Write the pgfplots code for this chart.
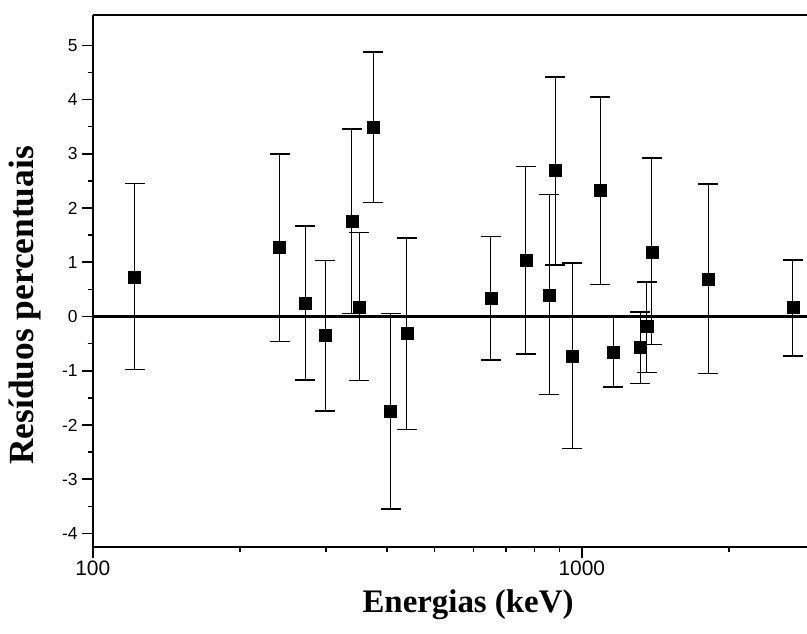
\documentclass[border=0pt]{standalone}
\usepackage{fontspec}
\setmainfont{Liberation Serif}
\newfontfamily\ticksfont{Liberation Sans}
\usepackage{pgfplots}
\usepackage{pgfplotstable}
\pgfplotsset{compat=1.18}

\pgfplotstableread{
x     y      ep    em
121.8  0.72  1.73  1.70
241    1.27  1.73  1.73
272    0.25  1.42  1.42
299   -0.35  1.38  1.39
338.6  1.75  1.71  1.70
350.4  0.18  1.37  1.36
374.8  3.49  1.39  1.39
406.7 -1.75  1.80  1.80
438.6 -0.31  1.76  1.77
652    0.33  1.14  1.13
768.5  1.03  1.74  1.72
858.6  0.40  1.85  1.84
883    2.69  1.73  1.74
956.8 -0.73  1.72  1.70
1090   2.32  1.73  1.73
1160  -0.66  0.65  0.64
1316  -0.57  0.65  0.67
1358  -0.18  0.82  0.85
1390   1.18  1.74  1.70
1815   0.68  1.76  1.73
2701   0.17  0.87  0.90
}\residuos

\begin{document}
\begin{tikzpicture}[x=1bp,y=1bp]
\path[use as bounding box] (0,0) rectangle (807,634);
\begin{axis}[
  at={(92.7bp,87bp)}, anchor=south west,
  scale only axis, width=714.3bp, height=532bp,
  xmode=log, xmin=100, xmax=2888, ymin=-4.25, ymax=5.56,
  /pgf/number format/assume math mode=true,
  axis x line=box, axis y line=left,
  axis line style={-, line width=2bp},
  xtick pos=left,
  tick align=outside,
  xtick={100,1000}, xticklabels={100,1000},
  minor xtick={200,300,400,500,600,700,800,900,2000},
  ytick={-4,-3,-2,-1,0,1,2,3,4,5},
  yticklabels={-4,-3,-2,-1,0,1,2,3,4,5},
  minor ytick={-3.5,-2.5,-1.5,-0.5,0.5,1.5,2.5,3.5,4.5},
  major tick length=11bp, minor tick length=5bp,
  major tick style={line width=1.6bp, black},
  minor tick style={line width=1.4bp, black},
  xticklabel style={font=\ticksfont\fontsize{21}{25}\selectfont, inner sep=3bp},
  yticklabel style={font=\ticksfont\fontsize{17.5}{21}\selectfont, inner sep=4bp},
  xlabel={Energias (keV)},
  ylabel={Resíduos percentuais},
  xlabel style={font=\bfseries\fontsize{33}{38}\selectfont, at={(axis description cs:0.5254,-0.1235)}, anchor=base},
  ylabel style={font=\bfseries\fontsize{35.5}{40}\selectfont, at={(axis description cs:-0.0829,0.454)}, anchor=base},
  clip=false,
]
\addplot[black, line width=2.2bp, no marks] coordinates {(100,0) (2888,0)};
\addplot[only marks, mark=square*, mark size=6bp, black,
  error bars/.cd, y dir=both, y explicit,
  error bar style={line width=0.9bp},
  error mark options={rotate=90, mark size=10bp, line width=1.4bp}]
  table[x=x, y=y, y error plus=ep, y error minus=em] {\residuos};
\end{axis}
\end{tikzpicture}
\end{document}
